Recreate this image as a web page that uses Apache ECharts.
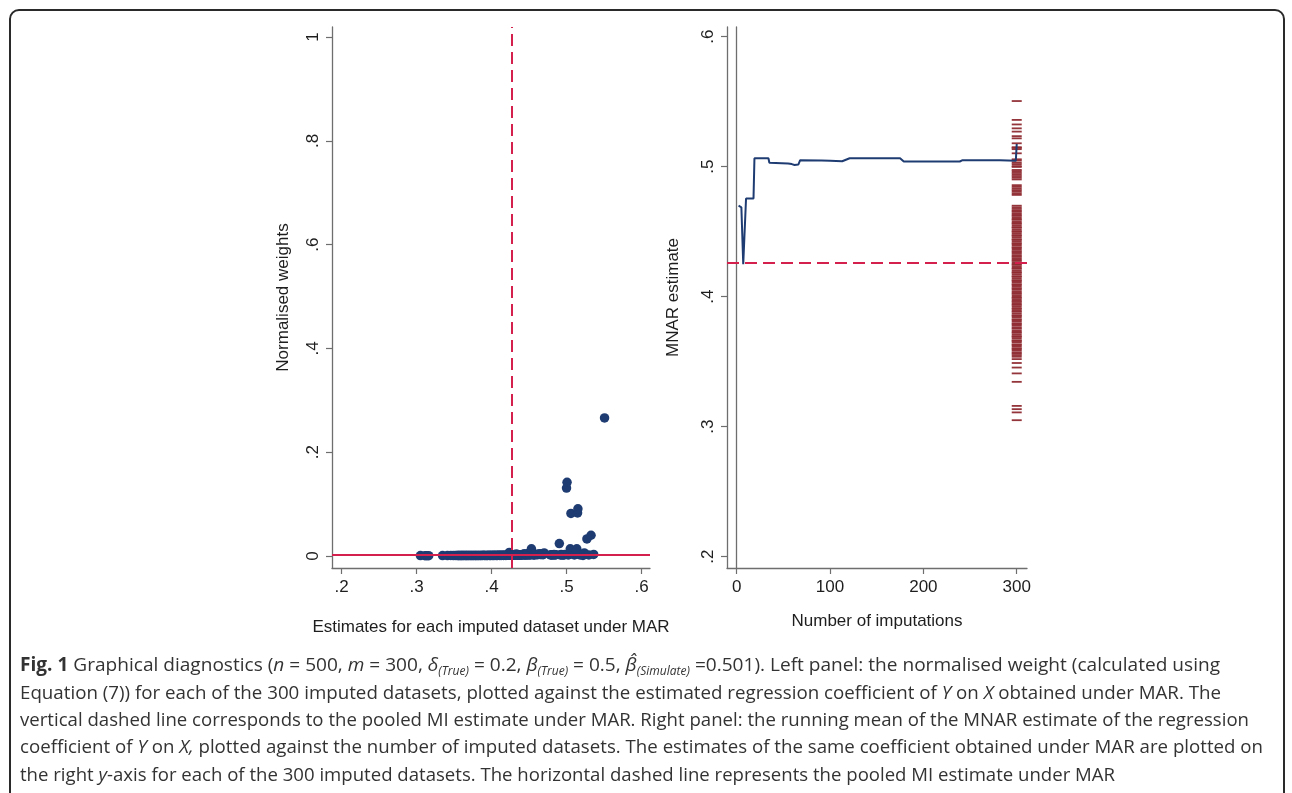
<!DOCTYPE html>
<html><head><meta charset="utf-8">
<script src="https://cdn.jsdelivr.net/npm/echarts@6/dist/echarts.min.js"></script>
<style>html,body{margin:0;padding:0;background:#fff}#c{width:1292px;height:793px}</style>
</head><body><div id="c"></div>
<script>
// ---------------- DATA ----------------
// MAR estimates for the imputed datasets (x of left panel, rug of right panel)
const marEst = [
  0.3050, 0.3110, 0.3135, 0.3160, 0.3345, 0.3410, 0.3455, 0.3490, 0.3520,
  0.3538, 0.3551, 0.3563, 0.3570, 0.3584, 0.3596, 0.3602, 0.3615, 0.3627, 0.3633,
  0.3648, 0.3659, 0.3664, 0.3678, 0.3690, 0.3697, 0.3709, 0.3722, 0.3730, 0.3741,
  0.3755, 0.3762, 0.3776, 0.3788, 0.3793, 0.3807, 0.3819, 0.3826, 0.3840, 0.3851,
  0.3858, 0.3871, 0.3884, 0.3892, 0.3905, 0.3913, 0.3927, 0.3938, 0.3946, 0.3959,
  0.3968, 0.3980, 0.3991, 0.3999, 0.4012, 0.4024, 0.4031, 0.4043, 0.4057, 0.4064,
  0.4076, 0.4089, 0.4095, 0.4108, 0.4120, 0.4127, 0.4139, 0.4152, 0.4158, 0.4171,
  0.4183, 0.4190, 0.4202, 0.4215, 0.4222, 0.4235, 0.4247, 0.4253, 0.4266, 0.4278,
  0.4285, 0.4297, 0.4309, 0.4316, 0.4329, 0.4341, 0.4348, 0.4360, 0.4373, 0.4379,
  0.4392, 0.4404, 0.4411, 0.4423, 0.4436, 0.4442, 0.4455, 0.4467, 0.4474, 0.4486,
  0.4498, 0.4505, 0.4517, 0.4530, 0.4536, 0.4549, 0.4561, 0.4568, 0.4580, 0.4593,
  0.4599, 0.4612, 0.4624, 0.4631, 0.4643, 0.4656, 0.4662, 0.4675, 0.4687,
  0.4700, 0.4783, 0.4795, 0.4808, 0.4820, 0.4832, 0.4845, 0.4858, 0.4902, 0.4915,
  0.4928, 0.4940, 0.4952, 0.4965, 0.4975, 0.4998, 0.5005, 0.5020, 0.5032, 0.5048,
  0.5057, 0.5103, 0.5135, 0.5145, 0.5150, 0.5180, 0.5218, 0.5235, 0.5270, 0.5295,
  0.5325, 0.5360, 0.5505
];
// Normalised weight of each imputed dataset (same order as marEst)
const weights = [
  0.0008, 0.0006, 0.0007, 0.0006, 0.0009, 0.0008, 0.0010, 0.0009, 0.0010,
  0.0010, 0.0008, 0.0010, 0.0009, 0.0011, 0.0010, 0.0009, 0.0010, 0.0012, 0.0010,
  0.0010, 0.0011, 0.0009, 0.0010, 0.0012, 0.0010, 0.0011, 0.0010, 0.0009, 0.0012,
  0.0010, 0.0011, 0.0012, 0.0010, 0.0009, 0.0011, 0.0012, 0.0010, 0.0011, 0.0010,
  0.0012, 0.0010, 0.0011, 0.0013, 0.0010, 0.0012, 0.0011, 0.0010, 0.0012, 0.0013,
  0.0011, 0.0012, 0.0010, 0.0013, 0.0012, 0.0011, 0.0014, 0.0012, 0.0013, 0.0011,
  0.0012, 0.0014, 0.0013, 0.0012, 0.0015, 0.0012, 0.0013, 0.0014, 0.0012, 0.0015,
  0.0013, 0.0012, 0.0015, 0.0018, 0.0013, 0.0070, 0.0014, 0.0016, 0.0020, 0.0014,
  0.0015, 0.0016, 0.0018, 0.0015, 0.0040, 0.0016, 0.0018, 0.0020, 0.0016, 0.0019,
  0.0018, 0.0022, 0.0030, 0.0018, 0.0045, 0.0020, 0.0022, 0.0019, 0.0025, 0.0050,
  0.0022, 0.0020, 0.0025, 0.0140, 0.0030, 0.0022, 0.0025, 0.0020, 0.0028, 0.0035,
  0.0025, 0.0030, 0.0028, 0.0032, 0.0045, 0.0030, 0.0028, 0.0035, 0.0025,
  0.0060, 0.0020, 0.0025, 0.0018, 0.0022, 0.0030, 0.0020, 0.0025, 0.0240, 0.0020,
  0.0030, 0.0018, 0.0025, 0.0020, 0.0030, 0.1310, 0.1420, 0.0020, 0.0030, 0.0140,
  0.0820, 0.0020, 0.0140, 0.0830, 0.0910, 0.0020, 0.0010, 0.0060, 0.0330, 0.0020,
  0.0400, 0.0030, 0.2660
];
// Running mean of the MNAR estimate versus number of imputations
const runX = [2, 3, 5, 6, 7, 9, 10, 18, 19, 34, 35, 55, 59, 62, 66, 68, 91, 100, 113, 121, 175, 179, 239, 242, 282, 284, 299, 300];
const runY = [0.4700, 0.4698, 0.4688, 0.4675, 0.4250, 0.4250, 0.4755, 0.4755, 0.5065, 0.5065, 0.5030, 0.5025, 0.5020, 0.5013, 0.5016, 0.5050, 0.5048, 0.5046, 0.5042, 0.5065, 0.5065, 0.5040, 0.5040, 0.5050, 0.5050, 0.5045, 0.5045, 0.5175];
const pooledMAR = 0.4262;      // pooled MI estimate under MAR
const equalWeight = 1 / 300;   // reference weight line
const rugAt = 300;
// tick values and labels
const leftXTicks = [0.2, 0.3, 0.4, 0.5, 0.6];
const leftXLabels = ['.2', '.3', '.4', '.5', '.6'];
const leftYTicks = [0, 0.2, 0.4, 0.6, 0.8, 1];
const leftYLabels = ['0', '.2', '.4', '.6', '.8', '1'];
const rightXTicks = [0, 100, 200, 300];
const rightXLabels = ['0', '100', '200', '300'];
const rightYTicks = [0.2, 0.3, 0.4, 0.5, 0.6];
const rightYLabels = ['.2', '.3', '.4', '.5', '.6'];
// caption
const captionLines = [
  [['b', 'Fig. 1'], ['n', ' Graphical diagnostics ('], ['i', 'n'], ['n', ' = 500, '], ['i', 'm'], ['n', ' = 300, '], ['i', 'δ'], ['s', '(True)'], ['n', ' = 0.2, '], ['i', 'β'], ['s', '(True)'], ['n', ' = 0.5, '], ['i', 'β\u0302'], ['s', '(Simulate)'], ['n', ' =0.501). Left panel: the normalised weight (calculated using']],
  [['n', 'Equation (7)) for each of the 300 imputed datasets, plotted against the estimated regression coefficient of '], ['i', 'Y'], ['n', ' on '], ['i', 'X'], ['n', ' obtained under MAR. The']],
  [['n', 'vertical dashed line corresponds to the pooled MI estimate under MAR. Right panel: the running mean of the MNAR estimate of the regression']],
  [['n', 'coefficient of '], ['i', 'Y'], ['n', ' on '], ['i', 'X,'], ['n', ' plotted against the number of imputed datasets. The estimates of the same coefficient obtained under MAR are plotted on']],
  [['n', 'the right '], ['i', 'y'], ['n', '-axis for each of the 300 imputed datasets. The horizontal dashed line represents the pooled MI estimate under MAR']]
];

// ---------------- STYLE / LAYOUT ----------------
const AX = '#6e6e6e', TXT = '#1e1e1e', NAVY = '#1f3c72', RED = '#d4204c', MAROON = '#8e2a30';
const FONT = '"Liberation Sans", Arial, sans-serif';
const lab = (ticks, labels) => v => { const i = ticks.findIndex(t => Math.abs(t - v) < 1e-9); return i < 0 ? '' : labels[i]; };

function axis(o) {
  return Object.assign({
    type: 'value',
    axisLine: { show: true, onZero: false, lineStyle: { color: AX, width: 1.3 } },
    axisTick: { show: true, length: 6, lineStyle: { color: AX, width: 1.2 }, customValues: o.ticks },
    axisLabel: { show: true, customValues: o.ticks, formatter: lab(o.ticks, o.labels), color: TXT, fontSize: 17, fontFamily: FONT, margin: o.margin, rotate: o.rotate || 0 },
    splitLine: { show: false },
    nameLocation: 'middle',
    nameTextStyle: { color: TXT, fontSize: 17, fontFamily: FONT }
  }, o.extra);
}
function refLine(spec, style) {
  return { silent: true, symbol: 'none', precision: 8, label: { show: false }, emphasis: { disabled: true },
    lineStyle: Object.assign({ color: RED, width: 2 }, style), data: [spec] };
}

const chart = echarts.init(document.getElementById('c'), null, { renderer: 'canvas' });

// caption graphics
const rich = {
  n: { fontFamily: '"Open Sans"', fontSize: 19, color: '#333' },
  b: { fontFamily: '"Open Sans"', fontSize: 19, fontWeight: 'bold', color: '#222' },
  i: { fontFamily: '"Open Sans"', fontSize: 19, fontStyle: 'italic', color: '#333' },
  s: { fontFamily: '"Open Sans"', fontSize: 12, fontStyle: 'italic', color: '#333', padding: [11, 0, 0, 0] }
};
const cv = document.createElement('canvas').getContext('2d');
function measure(line) {
  let w = 0;
  for (const [k, t] of line) {
    const r = rich[k];
    cv.font = (r.fontStyle || 'normal') + ' ' + (r.fontWeight || 'normal') + ' ' + r.fontSize + 'px "Open Sans"';
    w += cv.measureText(t).width;
  }
  return w;
}
const capTargetW = [1200, 1201, 1229, 1243, 1095];
const capY = [666, 693.5, 721, 748, 775.5];
const graphics = [{
  type: 'rect', shape: { x: 10, y: 10, width: 1274, height: 820, r: 9 },
  style: { fill: 'none', stroke: '#2a2a2a', lineWidth: 2 }, z: 100
}];
captionLines.forEach((line, li) => {
  const txt = line.map(([k, t]) => '{' + k + '|' + t + '}').join('');
  const sx = capTargetW[li] / measure(line);
  graphics.push({
    type: 'text', x: 20, y: capY[li], scaleX: sx, originX: 0, originY: 0,
    style: { text: txt, rich: rich, textAlign: 'left', textVerticalAlign: 'middle', fontFamily: '"Open Sans"', fontSize: 19, fill: '#333' }
  });
});

const option = {
  animation: false,
  backgroundColor: '#fff',
  grid: [
    { left: 332, top: 27, width: 318, height: 541 },
    { left: 727, top: 27, width: 300, height: 541 }
  ],
  xAxis: [
    axis({ ticks: leftXTicks, labels: leftXLabels, margin: 11, extra: { gridIndex: 0, min: 0.1871, max: 0.6111, name: 'Estimates for each imputed dataset under MAR', nameGap: 51 } }),
    axis({ ticks: rightXTicks, labels: rightXLabels, margin: 11, extra: { gridIndex: 1, min: -10.4, max: 311, name: 'Number of imputations', nameGap: 45 } })
  ],
  yAxis: [
    axis({ ticks: leftYTicks, labels: leftYLabels, margin: 10, rotate: 90, extra: { gridIndex: 0, min: -0.0231, max: 1.0193, name: 'Normalised weights', nameGap: 40 } }),
    axis({ ticks: rightYTicks, labels: rightYLabels, margin: 10, rotate: 90, extra: { gridIndex: 1, min: 0.19131, max: 0.60746, name: 'MNAR estimate', nameGap: 45 } }),
    { type: 'value', gridIndex: 1, position: 'right', min: 0.19131, max: 0.60746,
      axisLine: { show: true, lineStyle: { color: AX, width: 1.3 } }, axisTick: { show: false }, axisLabel: { show: false }, splitLine: { show: false } }
  ],
  series: [
    { type: 'line', xAxisIndex: 0, yAxisIndex: 0, data: [], z: 1, silent: true,
      markLine: refLine({ yAxis: equalWeight }, { type: 'solid' }) },
    { type: 'scatter', xAxisIndex: 0, yAxisIndex: 0, z: 2, symbol: 'circle', symbolSize: 9.5,
      itemStyle: { color: NAVY, opacity: 1 },
      data: marEst.map((v, i) => [v, weights[i]]) },
    { type: 'line', xAxisIndex: 0, yAxisIndex: 0, data: [], z: 3, silent: true,
      markLine: refLine({ xAxis: pooledMAR }, { type: [12, 6] }) },
    { type: 'scatter', xAxisIndex: 1, yAxisIndex: 1, z: 2, symbol: 'rect', symbolSize: [10, 1.8],
      itemStyle: { color: MAROON, opacity: 0.95 },
      data: marEst.map(v => [rugAt, v]) },
    { type: 'line', xAxisIndex: 1, yAxisIndex: 1, z: 3, showSymbol: false, symbol: 'none',
      lineStyle: { color: NAVY, width: 2 },
      data: runX.map((x, i) => [x, runY[i]]),
      markLine: refLine({ yAxis: pooledMAR }, { type: [12, 6] }) }
  ],
  graphic: graphics
};
chart.setOption(option);
</script></body></html>
